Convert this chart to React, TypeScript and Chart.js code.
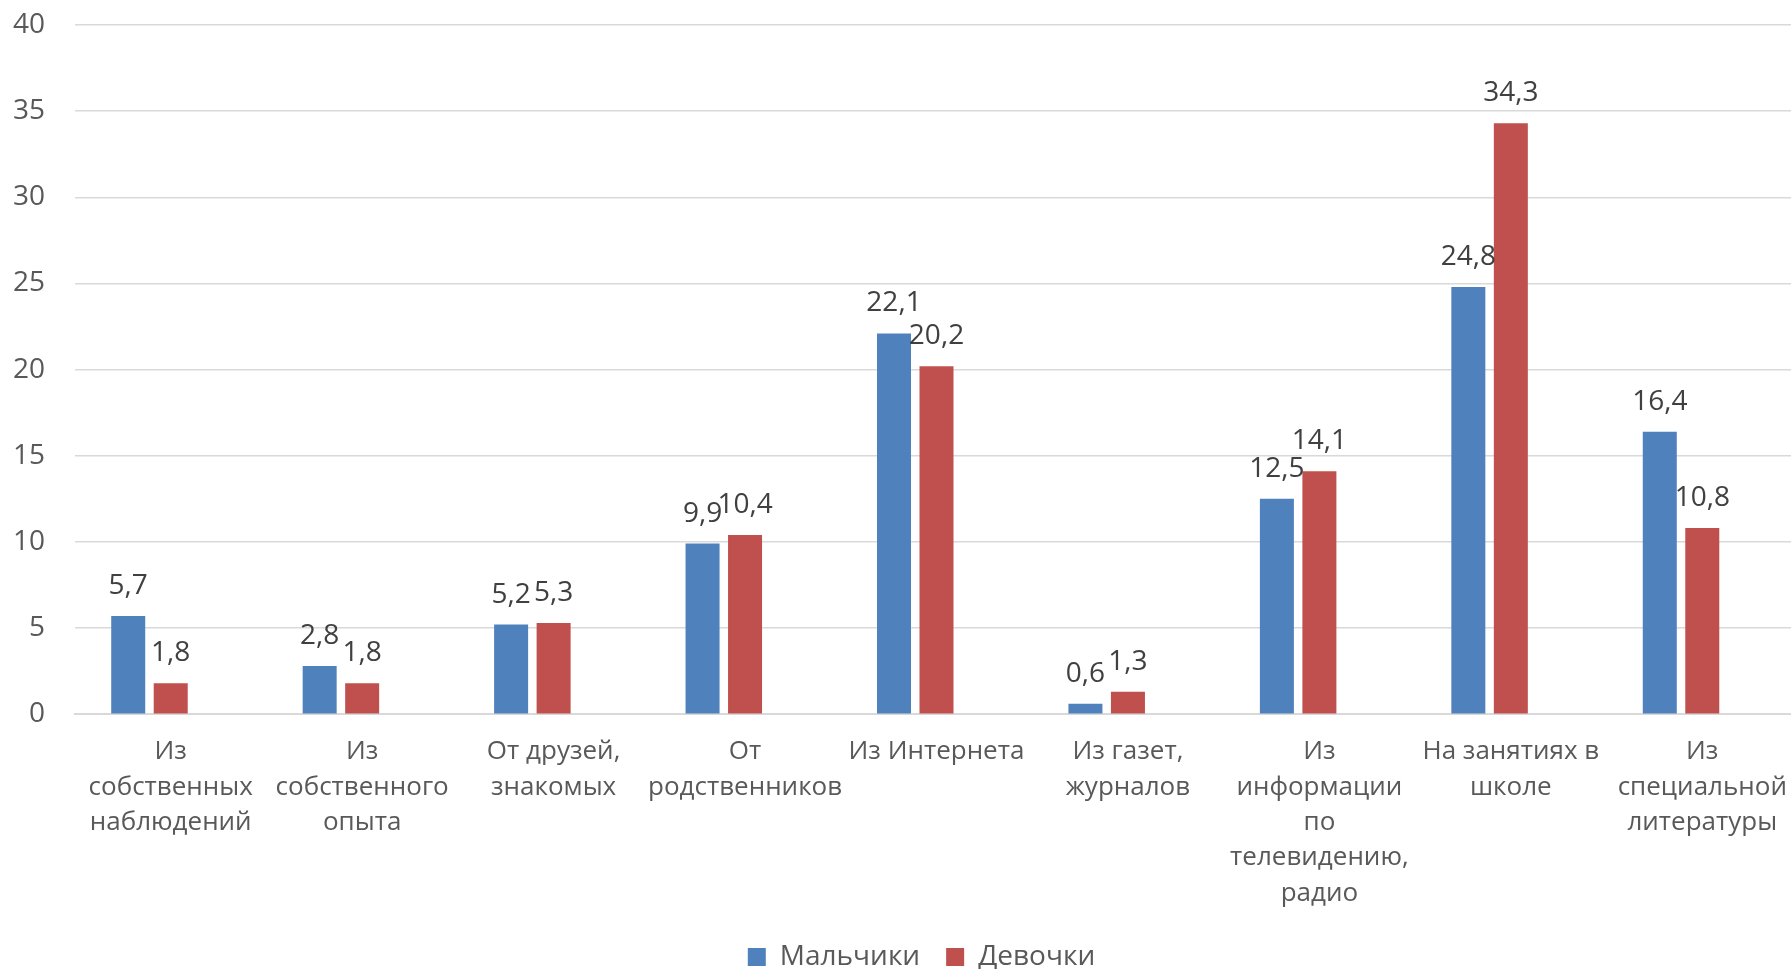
import React, { useEffect, useRef } from "react";
import { Chart, registerables } from "chart.js";

Chart.register(...registerables);

const categories: string[][] = [
  ["Из", "собственных", "наблюдений"],
  ["Из", "собственного", "опыта"],
  ["От друзей,", "знакомых"],
  ["От", "родственников"],
  ["Из Интернета"],
  ["Из газет,", "журналов"],
  ["Из", "информации", "по", "телевидению,", "радио"],
  ["На занятиях в", "школе"],
  ["Из", "специальной", "литературы"],
];

const boys: number[] = [5.7, 2.8, 5.2, 9.9, 22.1, 0.6, 12.5, 24.8, 16.4];
const girls: number[] = [1.8, 1.8, 5.3, 10.4, 20.2, 1.3, 14.1, 34.3, 10.8];
const emptySeries: (number | null)[] = [null, null, null, null, null, null, null, null, null];

const seriesNames = ["Мальчики", "Девочки", ""];
const FONT = "'Open Sans', 'DejaVu Sans', sans-serif";

const valueLabels = {
  id: "valueLabels",
  afterDatasetsDraw(chart: any) {
    const ctx = chart.ctx;
    ctx.save();
    ctx.font = `28px ${FONT}`;
    ctx.fillStyle = "#404040";
    ctx.textAlign = "center";
    ctx.textBaseline = "middle";
    [0, 1].forEach((di) => {
      const meta = chart.getDatasetMeta(di);
      const data = chart.data.datasets[di].data as number[];
      meta.data.forEach((bar: any, i: number) => {
        const v = data[i];
        if (v == null) return;
        ctx.fillText(String(v).replace(".", ","), bar.x, bar.y - 30);
      });
    });
    ctx.restore();
  },
};

const legendShift = {
  id: "legendShift",
  afterLayout(chart: any) {
    if (chart.legend) {
      chart.legend.left = 52;
      chart.legend.right = 1791;
    }
  },
};

export default function App() {
  const ref = useRef<HTMLCanvasElement>(null);
  useEffect(() => {
    if (!ref.current) return;
    const chart = new Chart(ref.current, {
      type: "bar",
      data: {
        labels: categories,
        datasets: [
          { label: seriesNames[0], data: boys, backgroundColor: "#4F81BD" },
          { label: seriesNames[1], data: girls, backgroundColor: "#C0504D" },
          { label: seriesNames[2], data: emptySeries, backgroundColor: "#9BBB59" },
        ],
      },
      options: {
        animation: false,
        responsive: true,
        maintainAspectRatio: false,
        datasets: { bar: { categoryPercentage: 0.666, barPercentage: 0.8 } },
        layout: { padding: { left: 0, right: 0, top: 25, bottom: -12 } },
        plugins: {
          legend: {
            position: "bottom",
            labels: {
              filter: (item: any) => item.datasetIndex < 2,
              boxWidth: 18,
              boxHeight: 18,
              padding: 26,
              color: "#595959",
              font: { size: 28, family: FONT },
            },
          },
          tooltip: { enabled: false },
        },
        scales: {
          x: {
            grid: { display: false, drawTicks: false },
            border: { display: true, color: "#d9d9d9", width: 2 },
            ticks: {
              color: "#595959",
              font: { size: 26, family: FONT, lineHeight: 1.36 },
              padding: 20,
              maxRotation: 0,
              minRotation: 0,
              autoSkip: false,
            },
            afterFit: (scale: any) => {
              scale.paddingLeft = 0;
              scale.paddingRight = 0;
              scale.height -= 14;
            },
          },
          y: {
            min: 0,
            max: 40,
            grid: { color: "#d9d9d9", lineWidth: 1.5, drawTicks: false },
            border: { display: false },
            ticks: {
              stepSize: 5,
              color: "#595959",
              font: { size: 28, family: FONT },
              padding: 30,
            },
            afterFit: (scale: any) => {
              scale.width = 75;
              scale.paddingTop = 0;
              scale.paddingBottom = 0;
            },
          },
        },
      },
      plugins: [valueLabels, legendShift],
    });
    return () => chart.destroy();
  }, []);
  return (
    <div style={{ position: "fixed", left: 0, top: 0, width: 1791, height: 969, background: "#fff", overflow: "hidden" }}>
      <div style={{ position: "relative", width: 1798, height: 969 }}>
        <canvas ref={ref} />
      </div>
    </div>
  );
}
